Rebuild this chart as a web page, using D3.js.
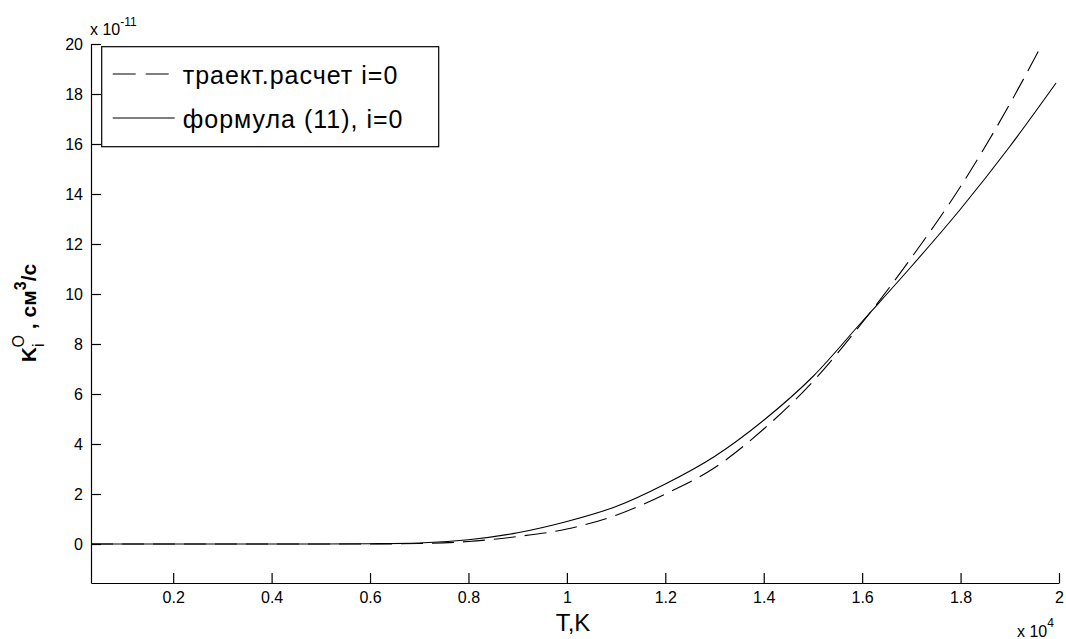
<!DOCTYPE html>
<html>
<head>
<meta charset="utf-8">
<script src="https://cdn.jsdelivr.net/npm/d3@7"></script>
<style>
body{margin:0;background:#fff}
svg{font-family:"Liberation Sans",Arial,sans-serif}
</style>
</head>
<body>
<div id="chart"></div>
<script>
var margin = {top: 44, right: 7, bottom: 56, left: 91},
    width = 1066 - margin.left - margin.right,
    height = 639 - margin.top - margin.bottom;

// trajectory calculation, i=0 (units of 1e-11 cm^3/s)
var tTraj = [330, 5000, 6000, 7000, 8000, 9000, 10000, 11000, 12000, 13000, 14000, 15000, 16000, 17000, 18000, 19000, 19640]
var kTraj = [0, 0, 0, 0.02, 0.1, 0.3, 0.6, 1.15, 2.0, 3.05, 4.6, 6.5, 8.85, 11.45, 14.3, 17.6, 19.93]

// formula (11), i=0
var tForm = [330, 5000, 6000, 7000, 8000, 9000, 10000, 11000, 12000, 13000, 14000, 15000, 16000, 17000, 18000, 19000, 19940]
var kForm = [0, 0, 0.01, 0.04, 0.17, 0.45, 0.9, 1.5, 2.4, 3.5, 4.95, 6.7, 8.9, 11.1, 13.4, 15.9, 18.44]

var xTicks = [2000, 4000, 6000, 8000, 10000, 12000, 14000, 16000, 18000, 20000]
var yTicks = [0, 2, 4, 6, 8, 10, 12, 14, 16, 18, 20]
var legendLabels = ["траект.расчет i=0", "формула (11), i=0"]

var svg = d3.select("#chart")
  .append("svg")
    .attr("width", width + margin.left + margin.right)
    .attr("height", height + margin.top + margin.bottom)
  .append("g")
    .attr("transform", "translate(" + margin.left + "," + margin.top + ")");

var x = d3.scaleLinear()
  .domain([330, 20000])
  .range([0, width]);

var y = d3.scaleLinear()
  .domain([-1.56, 20])
  .range([height, 0]);

svg.append("g")
  .attr("transform", "translate(0," + height + ")")
  .call(d3.axisBottom(x).tickValues(xTicks).tickSizeInner(-10).tickSizeOuter(0).tickPadding(9)
    .tickFormat(function(d){ return d / 10000 }));

svg.append("g")
  .call(d3.axisLeft(y).tickValues(yTicks).tickSizeInner(-10).tickSizeOuter(0).tickPadding(8));

svg.selectAll(".tick text").attr("font-size", 16).attr("font-family", null).attr("fill", "#000")
svg.selectAll(".domain, .tick line").attr("stroke", "#000").attr("stroke-width", 1.2)

// exponent labels
var ex = svg.append("text").attr("x", -1).attr("y", -9).attr("font-size", 16)
ex.append("tspan").text("x 10")
ex.append("tspan").attr("font-size", 12).attr("dy", -9).text("-11")

var ex2 = svg.append("text").attr("x", width - 42).attr("y", height + 54).attr("font-size", 16)
ex2.append("tspan").text("x 10")
ex2.append("tspan").attr("font-size", 12).attr("dy", -10).text("4")

var line = d3.line()
  .x(function(d){ return x(d[0]) })
  .y(function(d){ return y(d[1]) })
  .curve(d3.curveMonotoneX);

svg.append("path")
  .datum(d3.zip(tForm, kForm))
  .attr("fill", "none").attr("stroke", "#000").attr("stroke-width", 1.1)
  .attr("d", line);

svg.append("path")
  .datum(d3.zip(tTraj, kTraj))
  .attr("fill", "none").attr("stroke", "#000").attr("stroke-width", 1.1)
  .attr("stroke-dasharray", "22,9")
  .attr("d", line);

// axis titles
svg.append("text")
  .attr("x", width / 2 - 2).attr("y", height + 48)
  .attr("text-anchor", "middle").attr("font-size", 24)
  .text("T,K");

var yl = svg.append("text")
  .attr("transform", "translate(" + (35.5 - margin.left) + "," + (313 - margin.top) + ") rotate(-90)")
  .attr("text-anchor", "middle").attr("font-size", 21).attr("font-weight", "bold")
yl.append("tspan").text("K")
yl.append("tspan").attr("font-size", 16).attr("font-weight", "normal").attr("dy", 8).text("i")
yl.append("tspan").attr("font-size", 16).attr("font-weight", "normal").attr("dx", -4).attr("dy", -20).text("O")
yl.append("tspan").attr("dy", 12).text(" , см")
yl.append("tspan").attr("font-size", 16).attr("dy", -10).text("3")
yl.append("tspan").attr("dy", 10).text("/с")

// legend
var legend = svg.append("g").attr("transform", "translate(" + (101.7 - margin.left) + "," + (46.7 - margin.top) + ")")
legend.append("rect")
  .attr("width", 337).attr("height", 100)
  .attr("fill", "#fff").attr("stroke", "#000").attr("stroke-width", 1.2)
legendLabels.forEach(function(lab, i){
  var ly = 27.3 + i * 44
  legend.append("line")
    .attr("x1", 11).attr("x2", 73).attr("y1", ly).attr("y2", ly)
    .attr("stroke", "#000").attr("stroke-width", 1.1)
    .attr("stroke-dasharray", i == 0 ? "23,10" : null)
  legend.append("text")
    .attr("x", 81).attr("y", ly + 10.5)
    .attr("font-size", 25).attr("letter-spacing", 1)
    .text(lab)
})
</script>
</body>
</html>
